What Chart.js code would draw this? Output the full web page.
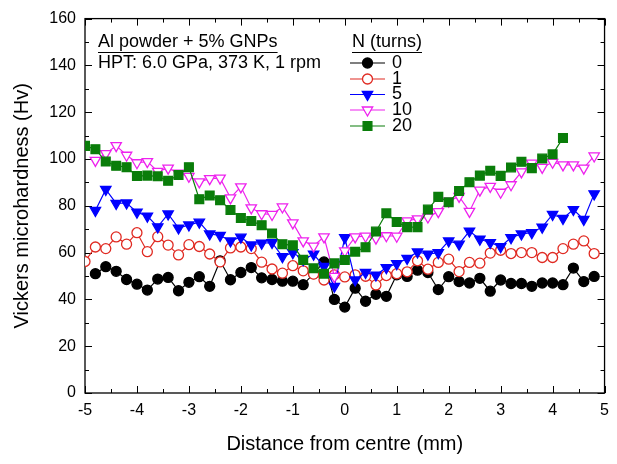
<!DOCTYPE html>
<html>
<head>
<meta charset="utf-8">
<title>Vickers microhardness</title>
<script src="https://cdn.jsdelivr.net/npm/chart.js@4/dist/chart.umd.min.js"></script>
<style>
  html, body { margin:0; padding:0; background:#fff; }
  #wrap { width:617px; height:464px; }
</style>
</head>
<body>
<div id="wrap"><canvas id="hv" width="617" height="464"></canvas></div>
<script>
/* ---------- data ---------- */

// positions, mm
const xA = [-4.8,-4.6,-4.4,-4.2,-4.0,-3.8,-3.6,-3.4,-3.2,-3.0,-2.8,-2.6,-2.4,-2.2,-2.0,-1.8,-1.6,-1.4,-1.2,-1.0,
            -0.8,-0.6,-0.4,-0.2,0,0.2,0.4,0.6,0.8,1.0,1.2,1.4,1.6,1.8,2.0,2.2,2.4,2.6,2.8,3.0,
            3.2,3.4,3.6,3.8,4.0,4.2,4.4,4.6,4.8];
const xB = [-5.0,-4.8,-4.6,-4.4,-4.2,-4.0,-3.8,-3.6,-3.4,-3.2,-3.0,-2.8,-2.6,-2.4,-2.2,-2.0,-1.8,-1.6,-1.4,-1.2,
            -1.0,-0.8,-0.6,-0.4,-0.2,0,0.2,0.4,0.6,0.8,1.0,1.2,1.4,1.6,1.8,2.0,2.2,2.4,2.6,2.8,
            3.0,3.2,3.4,3.6,3.8,4.0,4.2,4.4,4.6,4.8];
const xC = [-5.0,-4.8,-4.6,-4.4,-4.2,-4.0,-3.8,-3.6,-3.4,-3.2,-3.0,-2.8,-2.6,-2.4,-2.2,-2.0,-1.8,-1.6,-1.4,-1.2,
            -1.0,-0.8,-0.6,-0.4,-0.2,0,0.2,0.4,0.6,0.8,1.0,1.2,1.4,1.6,1.8,2.0,2.2,2.4,2.6,2.8,
            3.0,3.2,3.4,3.6,3.8,4.0,4.2];

// hardness, Hv
const hv0 = [51,54,52,48.5,46.5,44,48.7,49.4,43.7,47.3,
             49.7,45.6,56.5,48.4,51.5,53.6,49.2,48.5,47.8,47.8,
             46.3,51,56,40,36.7,44.8,39.2,42.2,41.3,50.5,
             49.8,52.5,51.5,44.2,49.7,47.6,47,49,43.5,48.3,
             46.8,46.8,45.6,47,47,46.3,53.4,47.6,49.8];
const hv1 = [56.2,62.4,61.7,66.7,63.6,68.5,60.4,66.8,63.2,59,
             63.4,62.6,59.4,56,62,62.4,61.7,55.9,53,51.2,
             54.4,52.2,50.8,48.3,50.5,49.6,50.5,49.9,46.2,50.2,
             51,51.8,56.5,52.9,55.8,57.2,51.9,55.8,55.5,59.8,
             61,59.6,60,60,57.9,57.9,61.7,63.6,65,59.6];
const hv5 = [78,87,81,81.2,77.3,75.6,71,76.5,70.5,71.8,
             73,68,67.3,65,66.6,63.3,64,64.3,58.3,60,
             57,59.3,54.1,45.6,66.4,48.3,51.5,50.4,53.6,55.3,
             57.5,60.3,59.3,60,65,63.6,69.2,65.7,64.3,62.5,
             66.4,68,68.5,70.9,76.3,74.6,78.4,74.2,85.1];
const hv10 = [99.4,102.3,105.7,101.6,98.4,98.9,94.7,96.1,94,92.6,
              90.2,91.6,91.8,83.4,88.1,79.1,76.6,76.3,79.5,72.7,
              65,62.8,66.7,49.8,60.7,66.7,67,66.2,67.2,67,
              73.6,74.4,75.2,77.5,82,84,77.6,86.7,88.3,85.8,
              89,94.5,98.2,96.4,98.6,97.5,97.5,96.1,101.3];
const hv20 = [105.6,104.2,98.9,97.1,96.5,92.7,92.9,92.6,90.7,93.2,
              96.5,82.8,84.4,82.4,78.2,74.8,73.5,71.7,68.2,63.6,
              63.1,56.9,53.3,51,55.4,56.8,60.4,62.3,69,76.8,
              73.1,70.9,70.9,78.4,83.8,81.5,86.3,90.1,92.9,95,
              92.8,96.4,98.8,96.1,100.2,102,109];

const turns = ['0','1','5','10','20'];
const noteLines = ['Al powder + 5% GNPs', 'HPT: 6.0 GPa, 373 K, 1 rpm'];


/* ---------- style ---------- */

const FONT = "'Liberation Sans', Arial, sans-serif";

const look = [
  {color:'#000000', fill:'#000000', style:'circle',   rot:0,   r:5},
  {color:'#e02a22', fill:'#ffffff', style:'circle',   rot:0,   r:5},
  {color:'#0000ff', fill:'#0000ff', style:'triangle', rot:180, r:6},
  {color:'#ee22ee', fill:'#ffffff', style:'triangle', rot:180, r:6},
  {color:'#0a7d0a', fill:'#0a7d0a', style:'rect',     rot:0,   r:6.2}
];

function makeSet(i, xs, ys){

  const s = look[i];

  return {
    label: turns[i],
    data: xs.map((x,k)=>({x:x, y:ys[k]})),
    showLine:true,
    borderColor:s.color,
    borderWidth:1.2,
    pointStyle:s.style,
    pointRotation:s.rot,
    pointRadius:s.r,
    pointHoverRadius:s.r,
    pointBackgroundColor:s.fill,
    pointBorderColor:s.color,
    pointBorderWidth:1.3,
    order:4-i
  };

}


/* ---------- frame, ticks, texts ---------- */

const decor = {

  id:'decor',

  beforeDatasetsDraw(chart){

    const {ctx, chartArea:a, scales} = chart;
    const sx = scales.x, sy = scales.y;

    ctx.save();
    ctx.strokeStyle = '#000';
    ctx.lineWidth = 1.3;
    ctx.strokeRect(a.left, a.top, a.right-a.left, a.bottom-a.top);

    ctx.lineWidth = 1;
    ctx.beginPath();

    for(let v = sx.min; v <= sx.max + 1e-9; v += 0.5){
      const px = Math.round(sx.getPixelForValue(v)) + 0.5;
      const len = Math.abs(v - Math.round(v)) < 1e-9 ? 7 : 4;
      ctx.moveTo(px, a.bottom); ctx.lineTo(px, a.bottom - len);
      ctx.moveTo(px, a.top);    ctx.lineTo(px, a.top + len);
    }

    for(let v = sy.min; v <= sy.max + 1e-9; v += 10){
      const py = Math.round(sy.getPixelForValue(v)) + 0.5;
      const len = v % 20 === 0 ? 7 : 4;
      ctx.moveTo(a.left, py);  ctx.lineTo(a.left + len, py);
      ctx.moveTo(a.right, py); ctx.lineTo(a.right - len, py);
    }

    ctx.stroke();
    ctx.restore();

  },

  afterDraw(chart){

    const {ctx, chartArea:a} = chart;

    ctx.save();
    ctx.fillStyle = '#000';
    ctx.strokeStyle = '#000';

    // axis titles
    ctx.font = '20px ' + FONT;
    ctx.textAlign = 'center';
    ctx.textBaseline = 'middle';
    ctx.fillText('Distance from centre (mm)', (a.left + a.right)/2, 444);

    ctx.save();
    ctx.translate(22, (a.top + a.bottom)/2);
    ctx.rotate(-Math.PI/2);
    ctx.fillText('Vickers microhardness (Hv)', 0, 0);
    ctx.restore();

    // note
    ctx.font = '18px ' + FONT;
    ctx.textAlign = 'left';
    ctx.fillText(noteLines[0], 98, 42);
    ctx.fillText(noteLines[1], 98, 63);
    let w = ctx.measureText(noteLines[0]).width;
    ctx.lineWidth = 1;
    ctx.beginPath();
    ctx.moveTo(98, 52.5); ctx.lineTo(98 + w, 52.5);

    // legend
    ctx.fillText('N (turns)', 352, 42);
    w = ctx.measureText('N (turns)').width;
    ctx.moveTo(352, 52.5); ctx.lineTo(352 + w, 52.5);
    ctx.stroke();

    const rows = [63, 79, 94.5, 110, 126];

    chart.data.datasets.forEach((ds, i)=>{

      const yy = rows[i];

      ctx.strokeStyle = ds.borderColor;
      ctx.lineWidth = ds.borderWidth;
      ctx.beginPath();
      ctx.moveTo(350, yy); ctx.lineTo(385, yy);
      ctx.stroke();

      ctx.fillStyle = ds.pointBackgroundColor;
      ctx.strokeStyle = ds.pointBorderColor;
      ctx.lineWidth = ds.pointBorderWidth;
      Chart.helpers.drawPoint(ctx, {
        pointStyle:ds.pointStyle,
        rotation:ds.pointRotation,
        radius:ds.pointRadius,
        borderWidth:ds.pointBorderWidth
      }, 367.5, yy);

      ctx.fillStyle = '#000';
      ctx.fillText(ds.label, 392, yy);

    });

    ctx.restore();

  }

};


/* ---------- chart ---------- */

const chart = new Chart(document.getElementById('hv'), {

  type:'scatter',

  data:{
    datasets:[
      makeSet(0, xA, hv0),
      makeSet(1, xB, hv1),
      makeSet(2, xA, hv5),
      makeSet(3, xA, hv10),
      makeSet(4, xC, hv20)
    ]
  },

  options:{

    responsive:false,
    animation:false,
    devicePixelRatio:1,

    layout:{ padding:{ top:16, right:7, left:0, bottom:0 } },

    plugins:{
      legend:{display:false},
      tooltip:{enabled:false}
    },

    scales:{

      x:{
        type:'linear',
        min:-5, max:5,
        grid:{display:false, drawTicks:false},
        border:{display:false},
        ticks:{
          stepSize:1,
          padding:8,
          color:'#000',
          font:{family:FONT, size:16}
        },
        afterFit(s){ s.height = 71; }
      },

      y:{
        type:'linear',
        min:0, max:160,
        grid:{display:false, drawTicks:false},
        border:{display:false},
        ticks:{
          stepSize:20,
          padding:9,
          color:'#000',
          font:{family:FONT, size:16}
        },
        afterFit(s){ s.width = 85; }
      }

    }

  },

  plugins:[decor]

});
</script>
</body>
</html>
